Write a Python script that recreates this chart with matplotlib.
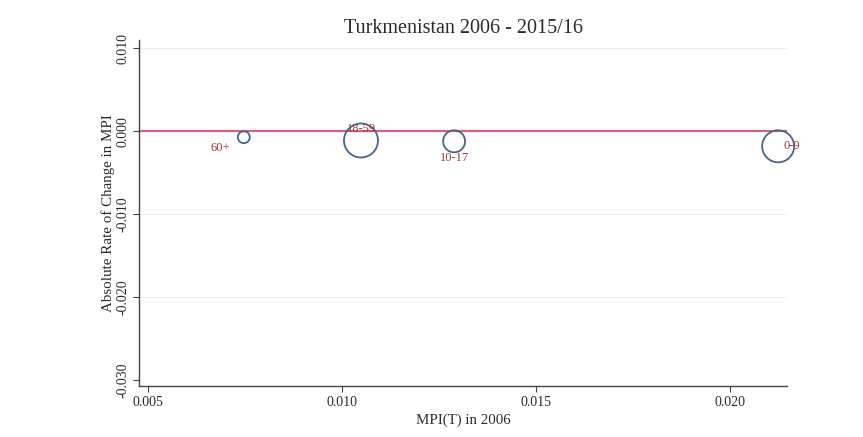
import matplotlib.pyplot as plt

groups = ['60+', '18-59', '10-17', '0-9']
mpi_2006 = [0.00747, 0.01049, 0.01289, 0.02124]
abs_change = [-0.0007, -0.0011, -0.0012, -0.0018]
pop_weight = [74, 600, 250, 530]  # marker area, scaled by group size

plt.rcParams['font.family'] = ['Liberation Serif', 'DejaVu Serif']

fig = plt.figure(figsize=(8.63, 4.37), dpi=100)
ax = fig.add_axes([0.1611, 0.117, 0.7509, 0.791])

for y in [0.010, -0.010, -0.020]:
    ax.axhline(y, color='#e8efee', lw=0.8, zorder=0)

ax.axhline(0, color='#d6627f', lw=1.6, zorder=1)

ax.scatter(mpi_2006, abs_change, s=pop_weight, facecolors='none',
           edgecolors='#46658b', linewidths=1.3, zorder=2, clip_on=False)

# label positions follow the original (Stata clock positions)
offsets = {'60+': (-10, -8, 'right', 'center'),
           '18-59': (0, 8, 'center', 'center'),
           '10-17': (0, -12, 'center', 'center'),
           '0-9': (4, 0, 'left', 'center')}
for g, x, y in zip(groups, mpi_2006, abs_change):
    dx, dy, ha, va = offsets[g]
    ax.annotate(g, (x, y), xytext=(dx, dy), textcoords='offset points',
                ha=ha, va=va, fontsize=9, color='#9a3a36')

ax.set_xlim(0.00477, 0.02147)
ax.set_ylim(-0.0307, 0.0110)
ax.set_xticks([0.005, 0.010, 0.015, 0.020])
ax.set_xticklabels(['0.005', '0.010', '0.015', '0.020'])
ax.set_yticks([0.010, 0.000, -0.010, -0.020, -0.030])
ax.set_yticklabels(['0.010', '0.000', '-0.010', '-0.020', '-0.030'],
                   rotation=90, va='center')

for s in ['top', 'right']:
    ax.spines[s].set_visible(False)
for s in ['left', 'bottom']:
    ax.spines[s].set_color('#444444')
    ax.spines[s].set_linewidth(1.0)
ax.tick_params(direction='out', length=4, width=0.8, color='#444444',
               labelsize=10, labelcolor='#2a2a2a')
ax.tick_params(axis='x', pad=3.5)
ax.tick_params(axis='y', pad=3)

ax.set_xlabel('MPI(T) in 2006', fontsize=10.8, color='#2a2a2a', labelpad=3)
ax.set_ylabel('Absolute Rate of Change in MPI', fontsize=10.8, color='#2a2a2a', labelpad=1)
ax.set_title('Turkmenistan 2006 - 2015/16', fontsize=14.5, color='#2a2a2a', pad=5)

fig.savefig('out.png', dpi=100)
